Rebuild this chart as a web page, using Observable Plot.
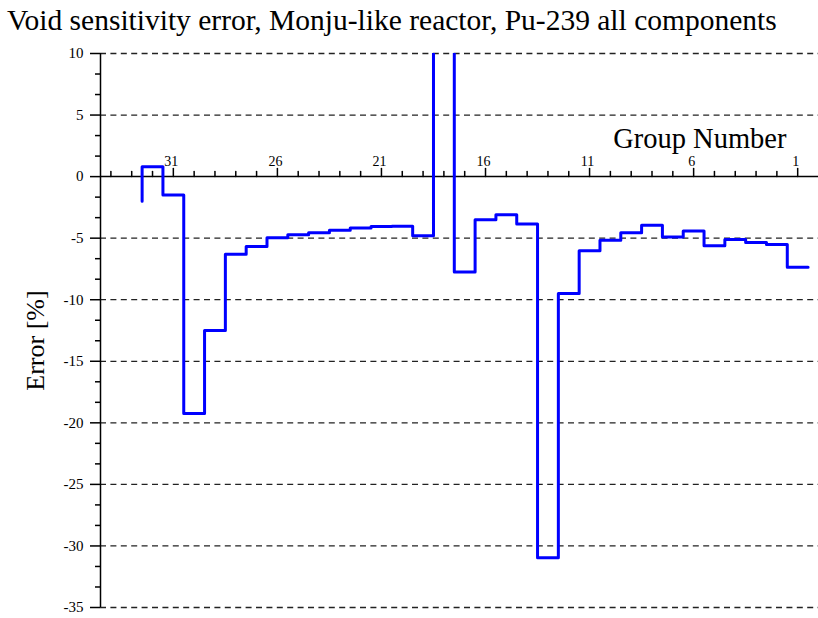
<!DOCTYPE html>
<html><head><meta charset="utf-8">
<script src="https://cdn.jsdelivr.net/npm/d3@7"></script>
<script src="https://cdn.jsdelivr.net/npm/@observablehq/plot@0.6"></script>
<style>
body{margin:0;background:#fff;}
#title{font-family:"Liberation Serif","Times New Roman",serif;font-size:29.5px;height:40px;line-height:40px;padding-left:7px;white-space:nowrap;color:#000;}
</style></head><body>
<div id="title">Void sensitivity error, Monju-like reactor, Pu-239 all components</div>
<div id="chart"></div>
<script>
// Energy groups (left to right) and their errors [%]
const groups = [32,31,30,29,28,27,26,25,24,23,22,21,20,19,18,17,16,15,14,13,12,11,10,9,8,7,6,5,4,3,2,1];
const errors = [0.8,-1.5,-19.25,-12.5,-6.3,-5.68,-4.97,-4.73,-4.57,-4.35,-4.17,-4.06,-4.03,-4.8,40,-7.75,-3.5,-3.1,-3.85,-30.95,-9.5,-6.02,-5.16,-4.55,-3.95,-4.9,-4.42,-5.62,-5.11,-5.35,-5.52,-7.37];
const startEdge = 32.5;
const startValue = -2;

const xTickGroups = [34,33,32,31,30,29,28,27,26,25,24,23,22,21,20,19,18,17,16,15,14,13,12,11,10,9,8,7,6,5,4,3,2,1];
const xLabelGroups = [31,26,21,16,11,6,1];
const xLabelTexts = ["31","26","21","16","11","6","1"];
const yMajorTicks = [10,5,0,-5,-10,-15,-20,-25,-30,-35];
const yTickLabels = ["10","5","0","-5","-10","-15","-20","-25","-30","-35"];
const gridValues = [10,5,-5,-10,-15,-20,-25,-30,-35];
const xDomain = [34.5, 0];
const yDomain = [-35, 10];

const yMinorTicks = d3.range(0, 28).filter(k => k % 3 !== 0).map(k => 10 - k * 5 / 3);
const xMinorTicks = xTickGroups.filter(g => !xLabelGroups.includes(g));

const points = [{x: startEdge, y: startValue}].concat(groups.map((g, i) => ({x: g - 0.5, y: errors[i]})));

const tickUp = {draw(context, l) { context.moveTo(0, 0); context.lineTo(0, -l); }};
const serif = "Liberation Serif, Times New Roman, serif";

const chart = Plot.plot({
  width: 818, height: 578,
  marginTop: 13, marginBottom: 11, marginLeft: 100, marginRight: 0,
  style: {fontFamily: serif, fontSize: "15px", color: "#000", background: "#fff", overflow: "visible"},
  x: {domain: xDomain, axis: null, label: null},
  y: {domain: yDomain, axis: null, label: null},
  marks: [
    Plot.ruleY(gridValues, {stroke: "#222", strokeWidth: 1.3, strokeDasharray: "6,4.4"}),
    Plot.axisY(yMinorTicks, {tickSize: 5, fill: "none", strokeWidth: 1.5, label: null}),
    Plot.axisY(yMajorTicks, {tickSize: 10, tickPadding: 7, fontSize: 15, strokeWidth: 1.5, label: null,
      tickFormat: d => yTickLabels[yMajorTicks.indexOf(d)]}),
    Plot.ruleX([xDomain[0]], {stroke: "#000", strokeWidth: 1.5}),
    Plot.ruleY([0], {stroke: "#000", strokeWidth: 1.5}),
    Plot.vector(xMinorTicks, {x: d => d, y: 0, length: 5, anchor: "start", shape: tickUp, stroke: "#000", strokeWidth: 1.5}),
    Plot.vector(xLabelGroups, {x: d => d, y: 0, length: 8, anchor: "start", shape: tickUp, stroke: "#000", strokeWidth: 1.5}),
    Plot.text(xLabelGroups, {x: d => d, y: 0, text: (d, i) => xLabelTexts[i], dy: -11, lineAnchor: "bottom", fontSize: 14, dx: -2}),
    Plot.line(points, {x: "x", y: "y", curve: "step-before", stroke: "#0000ff", strokeWidth: 3, clip: true}),
    Plot.text(["Group Number"], {y: 0, frameAnchor: "right", textAnchor: "end", dx: -32, dy: -29, lineAnchor: "bottom", fontSize: 28.5}),
    Plot.text(["Error [%]"], {frameAnchor: "left", rotate: -90, dx: -65, dy: 10, fontSize: 26, textAnchor: "middle", lineAnchor: "middle"})
  ]
});
document.getElementById("chart").appendChild(chart);
</script>
</body></html>
